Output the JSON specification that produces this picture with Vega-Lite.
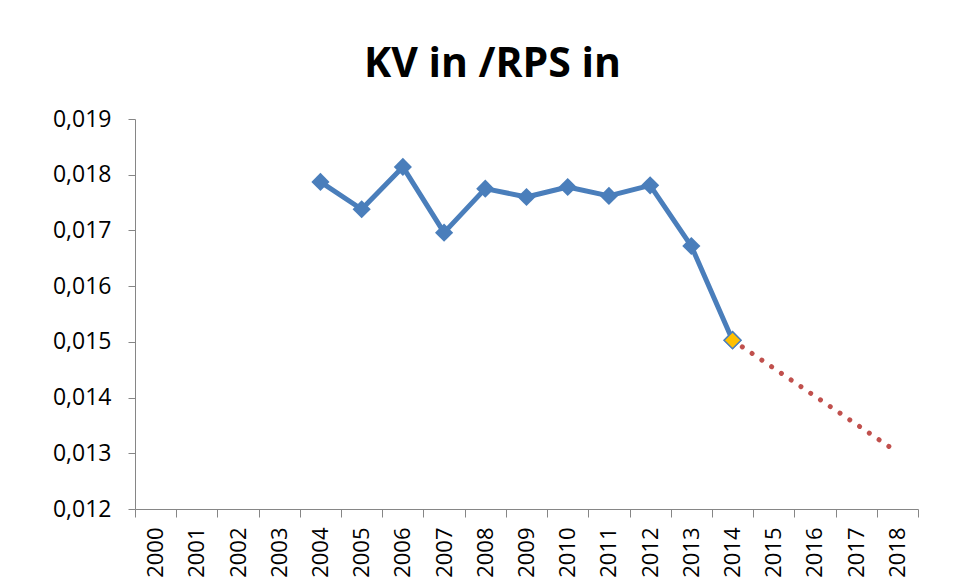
{
  "$schema": "https://vega.github.io/schema/vega-lite/v6.json",
  "autosize": {"type": "none"},
  "width": 783,
  "height": 390,
  "padding": {"left": 135, "top": 119, "right": 49, "bottom": 71},
  "background": "white",
  "title": {
    "text": "KV in /RPS in",
    "font": "Open Sans",
    "fontSize": 41,
    "fontWeight": "bold",
    "color": "#000000",
    "anchor": "middle",
    "frame": "group",
    "dx": -34,
    "baseline": "alphabetic",
    "offset": -10
  },
  "config": {
    "view": {"stroke": null},
    "axis": {
      "grid": false,
      "domainColor": "#868686",
      "tickColor": "#868686",
      "labelFont": "Open Sans",
      "labelFontSize": 24,
      "labelColor": "#000000",
      "titleFont": "Open Sans"
    }
  },
  "datasets": {
    "actual": [
      {"year": "2004", "value": 0.01787},
      {"year": "2005", "value": 0.01738},
      {"year": "2006", "value": 0.01814},
      {"year": "2007", "value": 0.01696},
      {"year": "2008", "value": 0.01775},
      {"year": "2009", "value": 0.01760},
      {"year": "2010", "value": 0.01778},
      {"year": "2011", "value": 0.01762},
      {"year": "2012", "value": 0.01781},
      {"year": "2013", "value": 0.01672},
      {"year": "2014", "value": 0.01503}
    ],
    "forecast": [
      {"year": "2014", "value": 0.01503},
      {"year": "2018", "value": 0.01302}
    ],
    "last": [
      {"year": "2014", "value": 0.01503}
    ]
  },
  "encoding": {
    "x": {
      "field": "year",
      "type": "ordinal",
      "bandPosition": 0.5,
      "scale": {
        "type": "band",
        "paddingInner": 0,
        "paddingOuter": 0,
        "domain": ["2000","2001","2002","2003","2004","2005","2006","2007","2008","2009","2010","2011","2012","2013","2014","2015","2016","2017","2018"]
      },
      "axis": {
        "title": null,
        "tickBand": "extent",
        "labelAngle": -90,
        "labelAlign": "right",
        "labelBaseline": "middle",
        "labelFontSize": 22,
        "tickSize": 8,
        "labelPadding": 10
      }
    },
    "y": {
      "field": "value",
      "type": "quantitative",
      "scale": {"domain": [0.012, 0.019], "zero": false, "nice": false},
      "axis": {
        "title": null,
        "values": [0.012, 0.013, 0.014, 0.015, 0.016, 0.017, 0.018, 0.019],
        "labelExpr": "replace(format(datum.value, '.3f'), '.', ',')",
        "labelFontSize": 23,
        "tickSize": 7,
        "labelPadding": 17
      }
    }
  },
  "layer": [
    {
      "data": {"name": "forecast"},
      "mark": {"type": "line", "color": "#C0504D", "strokeWidth": 5, "strokeCap": "round", "strokeDash": [0.01, 11.8]}
    },
    {
      "data": {"name": "actual"},
      "mark": {"type": "line", "color": "#4A7EBB", "strokeWidth": 5, "strokeJoin": "round"}
    },
    {
      "data": {"name": "actual"},
      "mark": {"type": "point", "shape": "diamond", "filled": true, "size": 330, "color": "#4A7EBB", "opacity": 1}
    },
    {
      "data": {"name": "last"},
      "mark": {"type": "point", "shape": "diamond", "filled": true, "size": 290, "fill": "#FFC000", "stroke": "#4A7EBB", "strokeWidth": 1.5, "opacity": 1}
    }
  ]
}
